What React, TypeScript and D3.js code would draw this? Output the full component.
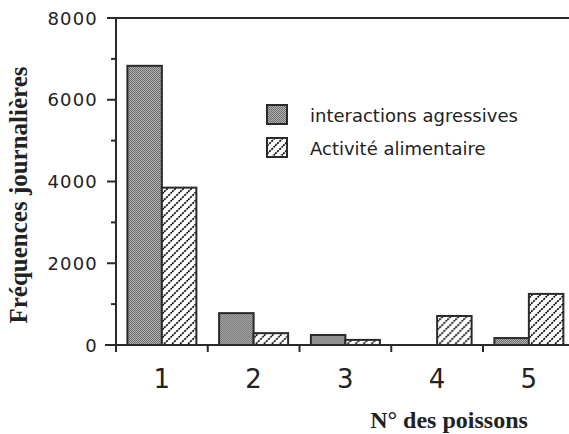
import React from "react";
import * as d3 from "d3";

const fishes = ["1", "2", "3", "4", "5"];
const seriesNames = ["interactions agressives", "Activité alimentaire"];
const aggressive = [6830, 780, 245, 0, 170];
const feeding = [3850, 290, 125, 710, 1250];
const yMajorTicks = [0, 2000, 4000, 6000, 8000];
const yMinorTicks = [1000, 3000, 5000, 7000];

const W = 569;
const H = 434;
const left = 116;
const zeroY = 345;
const topY = 18;

export default function App() {
  const y = d3.scaleLinear().domain([0, 8000]).range([zeroY, topY]);
  const x = d3.scaleBand<string>().domain(fishes).range([left, left + 5 * 91.75]).padding(0);
  const sub = d3.scaleBand<number>().domain([0, 1]).range([0, x.bandwidth()]).paddingInner(0).paddingOuter(0.33);
  const series = [aggressive, feeding];
  const fills = ["url(#gray)", "url(#hatch)"];
  const boundaries = d3.range(fishes.length + 1).map((i) => left + i * x.step());
  const stroke = "#2a2a2a";
  const sans = "'DejaVu Sans', Verdana, sans-serif";
  const serif = "'Liberation Serif', 'Times New Roman', serif";

  return (
    <svg width={W} height={H} style={{ position: "absolute", left: 0, top: 0, background: "#fff" }}>
      <defs>
        <pattern id="gray" patternUnits="userSpaceOnUse" width={2} height={2}>
          <rect width={2} height={2} fill="#b2b2b2" />
          <rect x={0} y={0} width={1} height={1} fill="#6a6a6a" />
          <rect x={1} y={1} width={1} height={1} fill="#727272" />
        </pattern>
        <pattern id="hatch" patternUnits="userSpaceOnUse" width={8} height={8}>
          <rect width={8} height={8} fill="#fff" />
          <path d="M-2,2 L2,-2 M0,8 L8,0 M6,10 L10,6" stroke="#111" strokeWidth={1.7} strokeDasharray="2.2 0.9" />
        </pattern>
      </defs>

      {/* top frame line */}
      <line x1={107} x2={W} y1={y(8000)} y2={y(8000)} stroke={stroke} strokeWidth={2} />

      {/* bars */}
      {fishes.map((f, i) => (
        <g key={f} transform={`translate(${x(f)},0)`}>
          {series.map((vals, s) =>
            vals[i] > 0 ? (
              <rect
                key={s}
                x={sub(s)}
                y={y(vals[i])}
                width={sub.bandwidth()}
                height={zeroY - y(vals[i])}
                fill={fills[s]}
                stroke={stroke}
                strokeWidth={2}
              />
            ) : null
          )}
        </g>
      ))}

      {/* y axis */}
      <line x1={left} x2={left} y1={y(8000)} y2={zeroY + 6} stroke={stroke} strokeWidth={2} />
      {yMajorTicks.map((t) => (
        <g key={t}>
          <line x1={107} x2={left} y1={y(t)} y2={y(t)} stroke={stroke} strokeWidth={2} />
          <text
            x={98}
            y={y(t)}
            textAnchor="end"
            dominantBaseline="central"
            fontFamily={sans}
            fontSize={18}
            letterSpacing={1.2}
            fill="#222"
          >
            {t}
          </text>
        </g>
      ))}
      {yMinorTicks.map((t) => (
        <line key={t} x1={111} x2={left} y1={y(t)} y2={y(t)} stroke={stroke} strokeWidth={2} />
      ))}

      {/* x axis */}
      <line x1={105} x2={W} y1={zeroY} y2={zeroY} stroke={stroke} strokeWidth={2} />
      {boundaries.map((b, i) => (
        <line key={i} x1={b} x2={b} y1={zeroY} y2={zeroY + 7} stroke={stroke} strokeWidth={2} />
      ))}
      {fishes.map((f) => (
        <text
          key={f}
          x={(x(f) as number) + x.bandwidth() / 2}
          y={388}
          textAnchor="middle"
          fontFamily={sans}
          fontSize={26}
          fill="#222"
        >
          {f}
        </text>
      ))}

      {/* legend */}
      {seriesNames.map((name, s) => (
        <g key={name} transform={`translate(267,${105 + s * 33})`}>
          <rect x={0} y={0} width={20} height={19} fill={fills[s]} stroke={stroke} strokeWidth={2} />
          <text x={43} y={10} dominantBaseline="central" fontFamily={sans} fontSize={18} fill="#222">
            {name}
          </text>
        </g>
      ))}

      {/* axis titles */}
      <text
        transform={`translate(27,195) rotate(-90)`}
        textAnchor="middle"
        fontFamily={serif}
        fontWeight="bold"
        fontSize={25}
        fill="#222"
      >
        Fréquences journalières
      </text>
      <text x={449} y={428} textAnchor="middle" fontFamily={serif} fontWeight="bold" fontSize={24} fill="#222">
        N° des poissons
      </text>
    </svg>
  );
}
